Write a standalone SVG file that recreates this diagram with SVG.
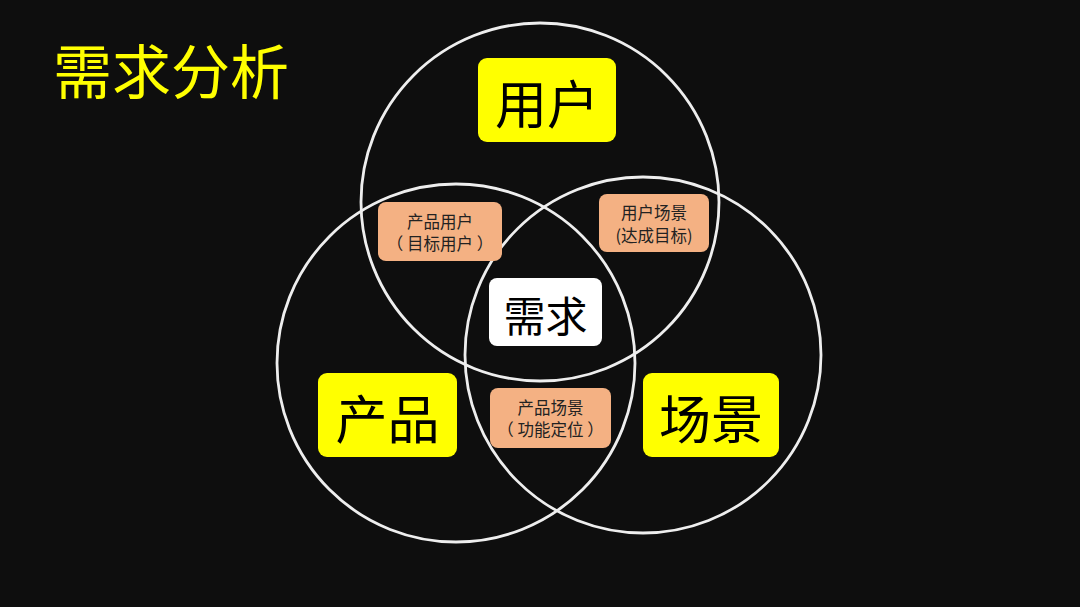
<svg xmlns="http://www.w3.org/2000/svg" width="1080" height="607" viewBox="0 0 1080 607">
<style>
.ring{fill:none;stroke:#eeeeee;stroke-width:2.8}
.big{fill:#ffff00}
.mid{fill:#ffffff}
.pair{fill:#f4b183}
text{font-family:"Noto Sans CJK SC","Noto Sans",sans-serif;text-anchor:middle;dominant-baseline:central;white-space:pre}
.tb{font-size:52px;fill:#000}
.tm{font-size:42px;fill:#000}
.ts{font-size:16.5px;fill:#222}
.title{font-size:59px;fill:#ffff00;text-anchor:start}
</style>
<rect width="1080" height="607" fill="#0e0e0e"/>
<text class="title" x="53" y="68">需求分析</text>
<g id="circles">
<circle class="ring" cx="540" cy="202" r="179"/>
<circle class="ring" cx="456" cy="363" r="179"/>
<circle class="ring" cx="643" cy="355" r="178"/>
</g>
<g id="connectors"></g>
<g id="user">
<rect class="big" x="478" y="58" width="138" height="84" rx="9"/>
<text class="tb" x="547" y="101">用户</text>
</g>
<g id="product">
<rect class="big" x="318" y="373" width="139" height="84" rx="9"/>
<text class="tb" x="387.5" y="416">产品</text>
</g>
<g id="scene">
<rect class="big" x="643" y="373" width="136" height="84" rx="9"/>
<text class="tb" x="711" y="416">场景</text>
</g>
<g id="need">
<rect class="mid" x="489" y="278" width="113" height="68" rx="8"/>
<text class="tm" x="545.5" y="313">需求</text>
</g>
<g id="product-user">
<rect class="pair" x="378" y="202" width="124" height="59" rx="8"/>
<text class="ts" x="440" y="221">产品用户</text>
<text class="ts" x="440" y="243" xml:space="preserve">（ 目标用户 ）</text>
</g>
<g id="user-scene">
<rect class="pair" x="599" y="194" width="110" height="58" rx="8"/>
<text class="ts" x="654" y="212">用户场景</text>
<text class="ts" x="654" y="235">(达成目标)</text>
</g>
<g id="product-scene">
<rect class="pair" x="490" y="388" width="121" height="60" rx="8"/>
<text class="ts" x="550.5" y="407">产品场景</text>
<text class="ts" x="550.5" y="429" xml:space="preserve">（ 功能定位 ）</text>
</g>
</svg>
